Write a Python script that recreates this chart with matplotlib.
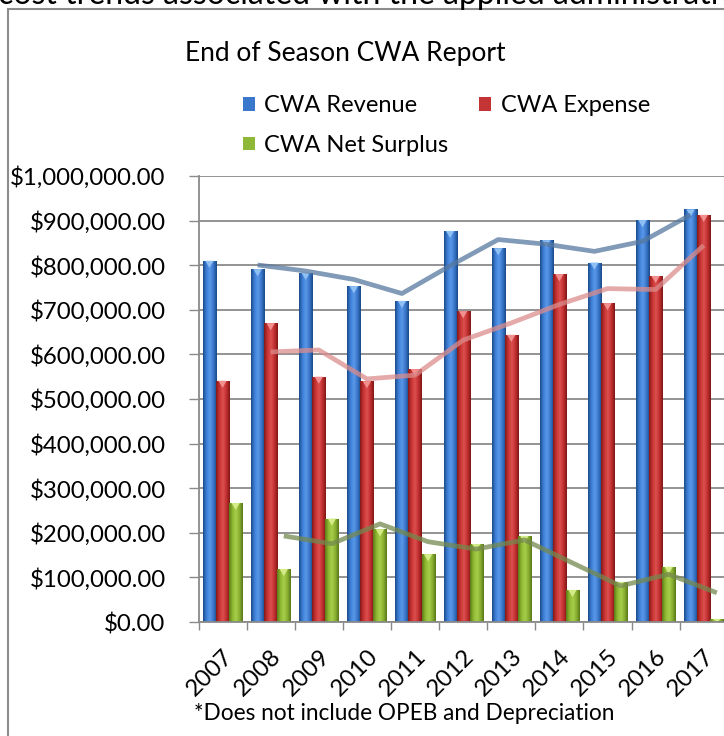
import numpy as np
import pandas as pd
import matplotlib
matplotlib.use("Agg")
import matplotlib.pyplot as plt
from matplotlib.patches import Rectangle, Polygon
from matplotlib.colors import LinearSegmentedColormap
from matplotlib.ticker import FuncFormatter, MultipleLocator

plt.rcParams['font.family'] = ['Lato', 'DejaVu Sans']

years = ['2007', '2008', '2009', '2010', '2011', '2012',
         '2013', '2014', '2015', '2016', '2017']
revenue = [810000, 791000, 783000, 753000, 720000, 877000,
           838000, 856000, 806000, 901000, 925000]
expense = [541000, 670000, 550000, 540000, 567000, 697000,
           644000, 780000, 715000, 776000, 913000]
surplus = [267000, 119000, 232000, 208000, 152000, 175000,
           193000, 72000, 90000, 124000, 7000]

W, H = 724, 736
fig = plt.figure(figsize=(W / 100, H / 100), dpi=100)

# axes box in pixels: left 198.5, right 727.8 (runs off the picture), zero at 622, top at 176
ax = fig.add_axes([198.5 / W, 1 - 622 / H, (727.8 - 198.5) / W, (622 - 176) / H])

x = np.arange(len(years))
bw = 0.272

series = [
    ('CWA Revenue', revenue, -bw, '#3a78cc',
     ['#1b4a8a', '#3d80d8', '#5b98e8', '#3a78cc', '#1a4786'], '#8fc0f4', '#56789f'),
    ('CWA Expense', expense, 0.0, '#c43434',
     ['#851818', '#c83434', '#dd5050', '#c23030', '#801616'], '#f29090', '#dc8c8c'),
    ('CWA Net Surplus', surplus, bw, '#90b838',
     ['#5c7c18', '#8fb832', '#a8ce4c', '#8ab030', '#58781a'], '#d4ec88', '#74884f'),
]

handles = []
for name, vals, off, base, grad, hl, tcol in series:
    bars = ax.bar(x + off, vals, width=bw, color=base, zorder=2, label=name)
    handles.append(bars)
    cmap = LinearSegmentedColormap.from_list(name, grad)
    for p in bars.patches:
        x0, y0 = p.get_x(), p.get_y()
        w, h = p.get_width(), p.get_height()
        im = ax.imshow(np.linspace(0, 1, 64).reshape(1, -1), cmap=cmap,
                       extent=[x0, x0 + w, y0, y0 + h], aspect='auto',
                       origin='lower', zorder=2.1, interpolation='bilinear')
        im.set_clip_path(p)
        dy = min(16000, h)
        ax.add_patch(Polygon([(x0 + 0.18 * w, y0 + h), (x0 + 0.82 * w, y0 + h),
                              (x0 + 0.5 * w, y0 + h - dy)],
                             closed=True, fc=hl, ec='none', zorder=2.2))
    # 2-period moving average trendline
    trend = pd.Series(vals).rolling(2).mean()
    ax.plot(x + off, trend, color=tcol, lw=3.4, alpha=0.75,
            solid_capstyle='butt', zorder=3)

ax.set_xlim(-0.5, len(years) - 0.5)
ax.set_ylim(0, 1000000)

grid_c = '#8a8a8a'
ax.yaxis.set_major_locator(MultipleLocator(100000))
ax.yaxis.set_major_formatter(FuncFormatter(lambda v, pos: f'${v:,.2f}'))
ax.yaxis.grid(True, color=grid_c, lw=1.3)
ax.set_axisbelow(True)
for s in ['top', 'right']:
    ax.spines[s].set_visible(False)
for s in ['left', 'bottom']:
    ax.spines[s].set_color(grid_c)
    ax.spines[s].set_linewidth(1.3)

ax.tick_params(axis='y', length=7.2, width=1.0, color=grid_c, pad=16.5,
               labelsize=17.3, labelcolor='black')
ax.set_xticks(x)
ax.set_xticklabels(years, rotation=45, ha='right', va='top',
                   rotation_mode='anchor')
ax.set_xticks(np.arange(-0.5, len(years)), minor=True)
ax.tick_params(axis='x', which='major', length=0, pad=17, labelsize=17.3)
ax.tick_params(axis='x', which='minor', length=5.8, width=1.0, color=grid_c)

# legend, row-major order
leg = fig.legend([handles[0], handles[2], handles[1]],
                 ['CWA Revenue', 'CWA Net Surplus', 'CWA Expense'],
                 ncol=2, loc='upper left',
                 bbox_to_anchor=(222 / W, 1 - 74 / H), frameon=False,
                 fontsize=17, handlelength=0.5, handleheight=0.5,
                 handletextpad=0.4, columnspacing=1.3, labelspacing=0.78)

fig.text(345 / W, 1 - 53 / H, 'End of Season CWA Report', ha='center',
         va='center', fontsize=19)
fig.text(404 / W, 1 - 714 / H, '*Does not include OPEB and Depreciation',
         ha='center', va='center', fontsize=16.3)

# cut-off text of the surrounding document and the chart frame
fig.text(-2 / W, 1 - 4.5 / H, 'cost trends associated with the applied administrative',
         ha='left', va='baseline', fontsize=23)
fig.add_artist(Rectangle((7.5 / W, -0.05), 1.2, 1.05 - 9.5 / H,
                         transform=fig.transFigure, fill=False,
                         ec='#8c8c8c', lw=1.5))

fig.savefig('out.png', dpi=100)
